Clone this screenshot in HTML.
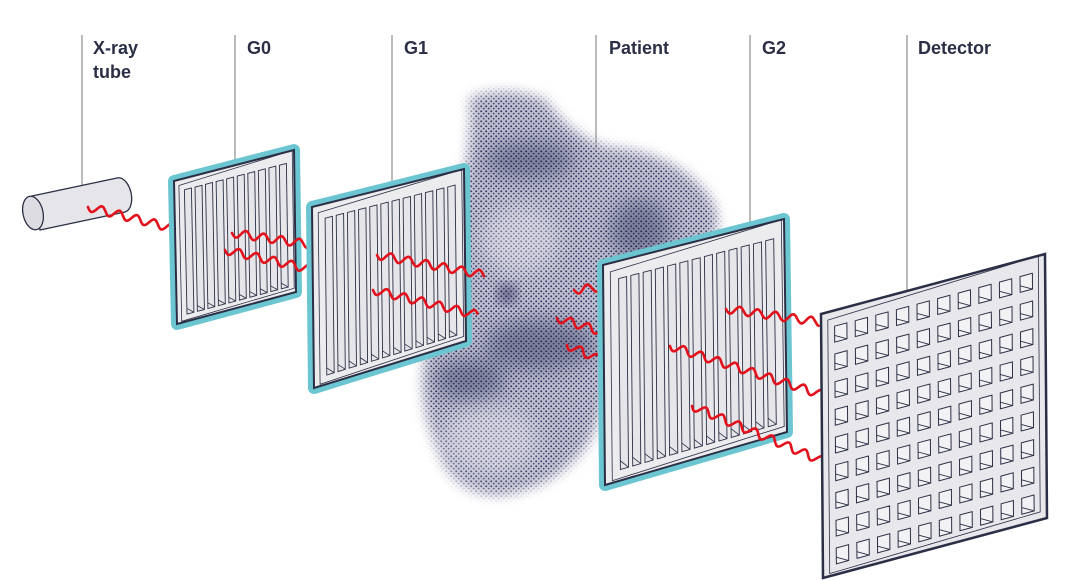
<!DOCTYPE html>
<html><head><meta charset="utf-8"><style>
html,body{margin:0;padding:0;background:#fff;width:1068px;height:580px;overflow:hidden}
svg{display:block}
text{font-family:"Liberation Sans",sans-serif;font-weight:bold;font-size:18px;fill:#2b2f45}
</style></head><body>
<svg id="s" width="1068" height="580" viewBox="0 0 1068 580" xmlns="http://www.w3.org/2000/svg">
<defs>
<pattern id="dots" width="5" height="5" patternUnits="userSpaceOnUse">
<rect width="5" height="5" fill="#bcbdce"/>
<circle cx="1.2" cy="1.3" r="0.95" fill="#2e3060"/><circle cx="3.7" cy="3.6" r="0.85" fill="#3a3c6a"/>
</pattern>
<filter id="soft" x="-20%" y="-20%" width="140%" height="140%"><feGaussianBlur stdDeviation="6"/></filter>
<filter id="soft2" x="-50%" y="-50%" width="200%" height="200%"><feGaussianBlur stdDeviation="10"/></filter>
<mask id="m"><path d="M470 98 C495 88 525 92 545 100 C560 120 580 140 610 148 C650 150 690 168 710 198 C725 225 715 240 700 248 L620 290 C615 340 610 400 590 440 C570 470 540 490 500 495 C470 495 450 480 440 455 C425 420 420 390 425 360 C435 300 450 250 460 200 C468 160 472 130 470 98 Z" fill="#fff" filter="url(#soft)"/></mask>
</defs>
<g stroke="#777" stroke-width="1">
<line x1="82" y1="35" x2="82" y2="186"/>
<line x1="235" y1="35" x2="235" y2="165"/>
<line x1="392" y1="35" x2="392" y2="182"/>
<line x1="596" y1="35" x2="596" y2="272"/>
<line x1="750" y1="35" x2="750" y2="228"/>
<line x1="907" y1="35" x2="907" y2="290"/>
</g>
<text x="93" y="54">X-ray</text><text x="93" y="78">tube</text>
<text x="247" y="54">G0</text><text x="404" y="54">G1</text>
<text x="609" y="54">Patient</text><text x="762" y="54">G2</text>
<text x="918" y="54">Detector</text>
<g mask="url(#m)">
<rect x="400" y="80" width="340" height="430" fill="url(#dots)"/>
<g opacity="0.4" filter="url(#soft2)" fill="#1e2050">
<ellipse cx="530" cy="160" rx="45" ry="18"/>
<ellipse cx="540" cy="345" rx="55" ry="25"/>
<ellipse cx="470" cy="380" rx="35" ry="20"/>
<ellipse cx="640" cy="230" rx="30" ry="30"/>
</g>
<g opacity="0.35" filter="url(#soft2)" fill="#fff">
<ellipse cx="520" cy="240" rx="40" ry="35"/>
<ellipse cx="490" cy="440" rx="50" ry="35"/>
</g>
</g>
<circle cx="507" cy="294" r="10" fill="#2a2c5c" opacity="0.55" filter="url(#soft)"/>
<g stroke="#2b2f45" stroke-width="1.3" fill="#e6e6ea">
<path d="M32 196 L117 178 A10 17 -12 0 1 125 212 L40 230 Z"/>
<ellipse cx="33" cy="213" rx="10" ry="17" transform="rotate(-12 33 213)" fill="#dcdce2"/>
</g>
<g id="g"></g>
</svg>
<script>
var NS="http://www.w3.org/2000/svg",G=document.getElementById('g');
function el(t,a){var e=document.createElementNS(NS,t);for(var k in a)e.setAttribute(k,a[k]);G.appendChild(e);return e;}
function P(q,u,v){var tl=q[0],tr=q[1],br=q[2],bl=q[3];
var tx=tl[0]+(tr[0]-tl[0])*u,ty=tl[1]+(tr[1]-tl[1])*u,bx=bl[0]+(br[0]-bl[0])*u,by=bl[1]+(br[1]-bl[1])*u;
return [tx+(bx-tx)*v,ty+(by-ty)*v];}
function poly(pts){return pts.map(function(p){return p[0].toFixed(1)+','+p[1].toFixed(1)}).join(' ');}
function wave(x1,y1,x2,y2){var dx=x2-x1,dy=y2-y1,L=Math.hypot(dx,dy),ux=dx/L,uy=dy/L,nx=-uy,ny=ux,d='';
for(var t=0;t<=L;t+=1){var a=4*Math.sin(t/18*2*Math.PI);var x=x1+ux*t+nx*a,y=y1+uy*t+ny*a;d+=(t?'L':'M')+x.toFixed(1)+' '+y.toFixed(1);}
el('path',{d:d,fill:'none',stroke:'#e3111b','stroke-width':2.6,'stroke-linecap':'round'});}
function grating(q,n,cyan){
if(cyan)el('polygon',{points:poly(q),fill:'#6cc6d2',stroke:'#6cc6d2','stroke-width':12,'stroke-linejoin':'round'});
el('polygon',{points:poly(q),fill:'#ececef',stroke:'#2b2f45','stroke-width':2});
el('polygon',{points:poly([P(q,0.04,0.04),P(q,0.985,0.0),P(q,0.985,0.97),P(q,0.04,0.99)]),fill:'none',stroke:'#2b2f45','stroke-width':0.8});
var w=0.88/n;
for(var i=0;i<n;i++){var u0=0.085+i*w,u1=u0+w*0.66;
el('polygon',{points:poly([P(q,u0,0.08),P(q,u1,0.08),P(q,u1,0.95),P(q,u0,0.95)]),fill:'#e6e6ea',stroke:'#2b2f45','stroke-width':0.9});
el('line',{x1:P(q,u0,0.91)[0],y1:P(q,u0,0.91)[1],x2:P(q,u1,0.95)[0],y2:P(q,u1,0.95)[1],stroke:'#2b2f45','stroke-width':0.8});}
}
wave(88,207,172,228);
grating([[174,181],[294,150],[296,292],[177,324]],10,true);
wave(232,233,314,245);wave(225,250,314,270);
grating([[312,207],[464,169],[466,341],[314,388]],12,true);
wave(377,255,485,275);wave(373,290,478,315);
wave(574,290,603,287);wave(557,318,603,332);wave(567,345,605,362);
grating([[603,265],[784,219],[787,432],[605,485]],13,true);
wave(726,309,820,322);wave(670,346,820,394);wave(692,406,820,460);
var D=[[821,314],[1045,254],[1047,518],[823,578]];
el('polygon',{points:poly(D),fill:'#e8e8ec',stroke:'#2b2f45','stroke-width':2.5});
el('polygon',{points:poly([P(D,0.03,0.03),P(D,0.97,0.0),P(D,0.97,0.97),P(D,0.03,0.99)]),fill:'none',stroke:'#2b2f45','stroke-width':0.8});
for(var r=0;r<9;r++)for(var c=0;c<10;c++){var u0=0.06+c*0.092,u1=u0+0.055,v0=0.06+r*0.105,v1=v0+0.06;
el('polygon',{points:poly([P(D,u0,v0),P(D,u1,v0),P(D,u1,v1),P(D,u0,v1)]),fill:'#f2f2f5',stroke:'#2b2f45','stroke-width':1});
var a=P(D,u0,v0+0.035),b=P(D,u1,v1);el('line',{x1:a[0],y1:a[1],x2:b[0],y2:b[1],stroke:'#2b2f45','stroke-width':0.9});}
</script>
</body></html>
